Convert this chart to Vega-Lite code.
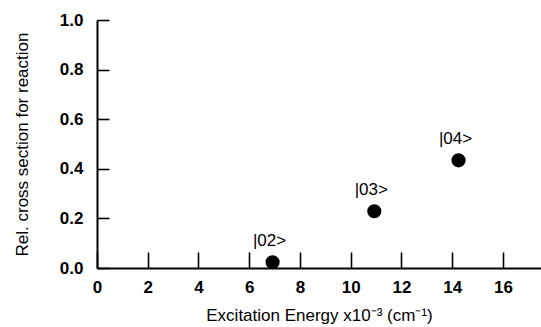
{
  "$schema": "https://vega.github.io/schema/vega-lite/v6.json",
  "width": 444,
  "height": 248,
  "autosize": {"type": "none"},
  "padding": {"left": 97, "top": 20, "right": 0, "bottom": 59},
  "background": "white",
  "config": {
    "view": {"stroke": null},
    "font": "Liberation Sans",
    "axis": {
      "domainColor": "black",
      "domainWidth": 2,
      "tickColor": "black",
      "tickWidth": 1.6,
      "grid": false,
      "labelFont": "Liberation Sans",
      "labelFontWeight": "bold",
      "labelFontSize": 17,
      "labelColor": "black",
      "titleFont": "Liberation Sans",
      "titleFontWeight": "normal",
      "titleFontSize": 17,
      "titleColor": "black"
    }
  },
  "data": {
    "values": [
      {"energy": 6.92, "cross_section": 0.023, "state": "|02>"},
      {"energy": 10.93, "cross_section": 0.229, "state": "|03>"},
      {"energy": 14.25, "cross_section": 0.434, "state": "|04>"}
    ]
  },
  "encoding": {
    "x": {
      "field": "energy",
      "type": "quantitative",
      "scale": {"domain": [0, 17.5], "nice": false, "zero": true},
      "axis": {
        "title": "Excitation Energy x10⁻³ (cm⁻¹)",
        "values": [0, 2, 4, 6, 8, 10, 12, 14, 16],
        "tickSize": -16,
        "labelPadding": 27,
        "titlePadding": 12,
        "labelFlush": false
      }
    },
    "y": {
      "field": "cross_section",
      "type": "quantitative",
      "scale": {"domain": [0, 1], "nice": false},
      "axis": {
        "title": "Rel. cross section for reaction",
        "values": [0, 0.2, 0.4, 0.6, 0.8, 1.0],
        "format": ".1f",
        "tickSize": -12,
        "labelPadding": 26,
        "titlePadding": 28,
        "labelFlush": false
      }
    }
  },
  "layer": [
    {
      "mark": {"type": "point", "filled": true, "color": "black", "opacity": 1, "size": 200, "shape": "circle"}
    },
    {
      "mark": {"type": "text", "font": "Liberation Sans", "fontSize": 17, "color": "black", "align": "center", "baseline": "middle", "dx": -3, "dy": -21},
      "encoding": {"text": {"field": "state"}}
    }
  ]
}
